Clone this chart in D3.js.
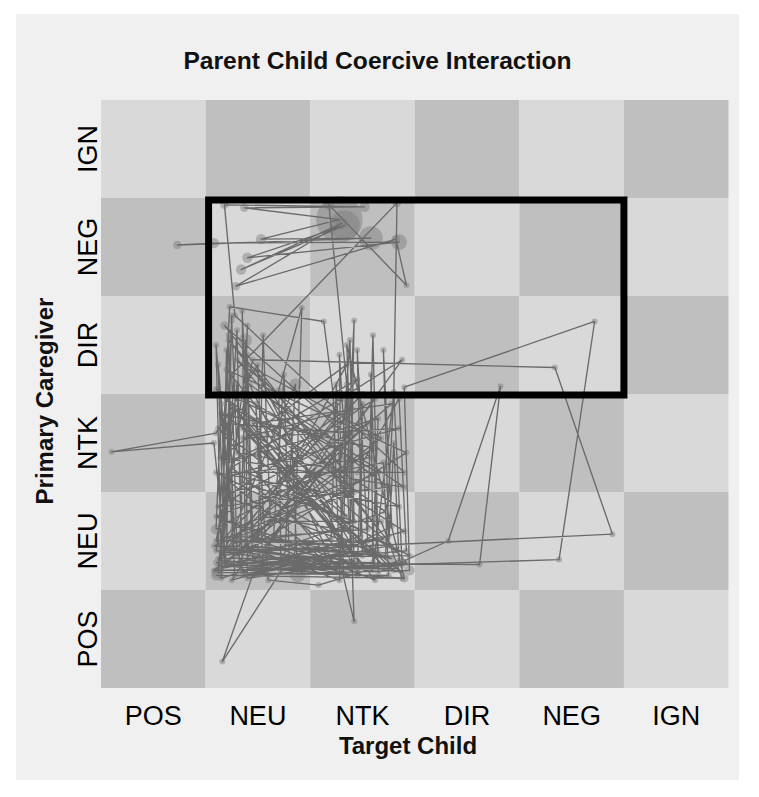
<!DOCTYPE html>
<html>
<head>
<meta charset="utf-8">
<script src="https://cdn.jsdelivr.net/npm/d3@7"></script>
<style>
  html, body { margin: 0; padding: 0; background: #ffffff; }
  svg { display: block; font-family: "Liberation Sans", Arial, sans-serif; }
</style>
</head>
<body>
<svg id="chart" width="759" height="797"></svg>
<script>
// ---------------- data ----------------
const title = "Parent Child Coercive Interaction";
const xTitle = "Target Child";
const yTitle = "Primary Caregiver";
const childStates  = ["POS", "NEU", "NTK", "DIR", "NEG", "IGN"];
const parentStates = ["POS", "NEU", "NTK", "DIR", "NEG", "IGN"];
// highlighted region (state index ranges)
const regionChild  = [1, 5];   // NEU .. NEG
const regionParent = [3, 5];   // DIR .. NEG

// trajectory: child state (x) and parent state (y), continuous (cell index + jitter)
const childPos = [
  1.10, 2.90, 2.35, 2.42, 1.20, 1.25, 1.18, 1.30, 1.35, 2.88,
  2.80, 2.60, 1.15, 1.10, 1.22, 2.70, 2.75, 1.12, 1.40, 1.45,
  2.30, 2.28, 2.38, 1.55, 1.50, 1.10, 0.10, 1.08, 1.20, 2.92,
  2.85, 2.45, 1.30, 1.25, 1.17, 2.20, 2.25, 2.32, 1.80, 1.75,
  1.65, 2.55, 2.60, 2.65, 1.12, 1.23, 2.13, 2.22, 2.28, 1.40,
  1.38, 1.45, 2.40, 1.20, 1.28, 2.95, 2.90, 4.72, 4.38, 1.12,
  1.30, 1.35, 2.50, 2.45, 2.55, 1.10, 1.45, 4.34, 4.89, 1.15,
  1.22, 1.26, 2.35, 2.42, 2.38, 1.55, 1.48, 1.60, 2.08, 2.85,
  2.80, 2.75, 1.46, 1.16, 1.72, 1.70, 1.92, 1.85, 2.60, 2.58,
  2.65, 3.32, 3.82, 3.62, 1.18, 1.12, 1.25, 2.28, 2.42, 2.40,
  1.20, 1.15, 1.10, 2.30, 2.38, 2.42, 1.35, 1.40, 1.32, 2.75,
  2.70, 2.78, 1.88, 1.82, 1.20, 2.65, 2.60, 1.10, 1.22, 2.90,
  1.28, 1.18, 2.52, 1.37, 2.28, 1.53, 2.58, 0.73, 1.08, 2.85,
  1.40, 2.33, 1.34, 2.30, 1.29, 2.82, 2.92, 2.18, 2.35, 2.40,
  1.30, 1.25, 2.83, 2.80, 2.72, 1.38, 1.35, 1.45, 2.45, 2.50,
  2.48, 1.15, 1.20, 1.28, 2.32, 2.35, 2.28, 1.50, 1.55, 1.62,
  2.68, 2.88, 1.12, 1.86, 1.75, 2.82, 1.08,
  2.60, 1.15, 2.90, 1.25, 2.40, 1.35, 2.85, 1.18, 2.25, 1.42,
  2.75, 1.12, 2.55, 1.30, 2.92, 1.20, 2.35, 1.50, 2.70, 1.10,
  2.20, 1.60, 2.88, 1.25, 2.45, 1.38, 2.65, 1.15, 2.50, 1.70,
  2.82, 1.22, 2.30, 1.10, 2.62, 1.45, 2.78, 1.28, 2.40, 1.55,
  2.90, 1.14, 2.35, 1.32, 2.72, 1.20, 2.50, 1.66, 2.28, 1.12,
  2.95, 1.40, 2.58, 1.18, 2.42, 1.08, 2.80, 1.35, 2.25, 1.48,
  2.68, 1.22, 2.38, 1.28, 2.85, 1.10, 2.55, 1.45, 2.92, 1.30,
  2.32, 1.15, 2.70, 1.58, 2.45, 1.25, 2.88, 1.12, 2.20, 1.36,
  2.62, 1.20, 2.78, 1.42, 2.35, 1.10
];
const parentPos = [
  1.15, 1.12, 3.50, 1.30, 1.42, 3.80, 1.60, 3.65, 1.20, 1.25,
  3.00, 1.20, 1.30, 3.50, 2.00, 2.30, 1.15, 1.18, 3.40, 1.50,
  1.45, 3.40, 1.60, 1.75, 3.30, 2.60, 2.41, 2.50, 1.25, 1.40,
  2.95, 2.20, 2.40, 3.75, 1.35, 1.52, 3.10, 1.18, 1.30, 3.20,
  1.55, 1.62, 3.60, 1.38, 1.45, 3.89, 3.74, 3.00, 1.25, 1.12,
  3.55, 1.65, 2.60, 2.70, 1.15, 1.20, 3.07, 3.74, 1.31, 1.20,
  3.10, 1.30, 1.35, 3.45, 1.50, 1.50, 3.35, 3.27, 1.57, 1.38,
  3.60, 1.62, 2.10, 3.75, 1.40, 1.22, 2.90, 1.10, 1.05, 1.30,
  2.50, 1.45, 1.18, 0.27, 1.19, 3.04, 3.88, 1.30, 1.28, 3.20,
  1.18, 1.50, 3.08, 1.26, 1.28, 3.30, 1.70, 1.31, 0.68, 1.28,
  1.55, 2.90, 1.62, 2.35, 3.55, 1.70, 2.10, 3.70, 1.25, 1.55,
  3.45, 1.65, 1.16, 2.60, 2.30, 2.75, 1.45, 1.40, 2.20, 2.20,
  3.80, 4.93, 4.91, 4.90, 4.78, 4.58, 4.59, 4.52, 4.54, 4.55,
  4.39, 4.72, 4.27, 4.74, 4.10, 4.58, 4.11, 4.93, 3.10, 1.20,
  1.40, 3.20, 4.95, 3.02, 1.35, 1.45, 3.85, 1.30, 1.15, 2.90,
  1.55, 1.12, 3.45, 1.48, 1.62, 2.95, 1.10, 1.40, 3.60, 1.70,
  1.70, 1.12, 1.25, 3.10, 1.25, 1.22, 1.20,
  2.45, 2.80, 1.60, 1.10, 2.85, 2.55, 2.65, 2.15, 1.20, 3.10,
  2.05, 1.85, 2.70, 1.35, 2.40, 3.25, 1.75, 2.45, 1.25, 3.05,
  2.50, 1.45, 3.35, 2.25, 1.20, 2.95, 2.20, 1.50, 3.00, 2.10,
  1.40, 3.55, 2.25, 1.75, 1.10, 2.70, 2.90, 1.55, 1.45, 3.00,
  2.05, 2.35, 3.30, 1.28, 1.80, 2.95, 1.25, 2.30, 2.80, 1.32,
  1.35, 2.20, 2.35, 3.70, 2.00, 1.45, 1.20, 2.65, 1.60, 3.25,
  2.55, 1.38, 1.22, 2.85, 1.85, 2.20, 1.40, 1.25, 1.28, 3.35,
  2.45, 1.22, 1.52, 2.60, 3.15, 1.45, 1.18, 2.65, 1.30, 1.15,
  2.95, 1.95, 1.32, 1.55, 1.15, 1.28
];
// time spent at each event (drives node size)
const duration = [
  3, 2, 1, 1, 2, 1, 1, 1, 1, 1,
  1, 1, 2, 1, 1, 1, 1, 4, 1, 1,
  1, 1, 1, 1, 1, 1, 1, 1, 1, 1,
  1, 1, 1, 1, 1, 1, 1, 1, 1, 1,
  1, 1, 1, 1, 1, 1, 1, 1, 1, 1,
  5, 1, 1, 1, 1, 3, 1, 1, 1, 1,
  1, 1, 1, 1, 1, 1, 1, 1, 1, 1,
  1, 1, 1, 1, 1, 1, 1, 1, 1, 1,
  1, 1, 1, 1, 1, 1, 1, 1, 1, 1,
  1, 1, 1, 1, 1, 1, 1, 1, 1, 1,
  1, 1, 3, 1, 1, 1, 1, 1, 1, 1,
  1, 1, 7, 1, 1, 1, 1, 1, 1, 1,
  1, 2, 3, 2, 60, 3, 16, 2, 3, 7,
  3, 25, 3, 4, 2, 2, 1, 3, 1, 1,
  1, 1, 2, 1, 1, 1, 1, 1, 1, 1,
  1, 1, 1, 1, 1, 2, 1, 1, 1, 1,
  1, 1, 1, 4, 1, 1, 1,
  1, 1, 1, 1, 1, 1, 1, 1, 1, 1,
  1, 1, 1, 1, 1, 1, 1, 1, 1, 1,
  1, 1, 1, 1, 1, 1, 1, 1, 1, 1,
  1, 1, 1, 1, 1, 1, 1, 1, 1, 1,
  1, 1, 1, 1, 1, 1, 1, 1, 1, 1,
  1, 1, 1, 2, 1, 1, 1, 1, 1, 1,
  1, 1, 1, 1, 1, 1, 1, 1, 1, 1,
  1, 1, 1, 1, 1, 1, 1, 1, 1, 1,
  1, 1, 1, 1, 1, 1
];

// ---------------- layout ----------------
const svg = d3.select("#chart");
const panel = { x: 16, y: 14, w: 723, h: 766 };
const grid = { left: 101, right: 728.5, top: 100, bottom: 688 };

const xBand = d3.scaleBand().domain(childStates).range([grid.left, grid.right]).padding(0);
const yBand = d3.scaleBand().domain(parentStates).range([grid.bottom, grid.top]).padding(0);
const x = d3.scaleLinear().domain([0, 6]).range([grid.left, grid.right]);
const y = d3.scaleLinear().domain([0, 6]).range([grid.bottom, grid.top]);
const r = d3.scaleSqrt().domain([0, 1]).range([0, 3]);

svg.append("rect")
  .attr("x", panel.x).attr("y", panel.y)
  .attr("width", panel.w).attr("height", panel.h)
  .attr("fill", "#f0f0f0");

// checkerboard cells
const cells = [];
childStates.forEach((c, i) => parentStates.forEach((p, j) => cells.push({ c, p, i, j })));
svg.append("g").selectAll("rect").data(cells).join("rect")
  .attr("x", d => xBand(d.c))
  .attr("y", d => yBand(d.p))
  .attr("width", xBand.bandwidth())
  .attr("height", yBand.bandwidth())
  .attr("fill", d => ((d.i + d.j) % 2 === 0) ? "#bfbfbf" : "#d9d9d9");

// trajectory
const n = Math.min(childPos.length, parentPos.length, duration.length);
const pts = d3.range(n).map(k => ({ x: childPos[k], y: parentPos[k], d: duration[k] }));

svg.append("g").selectAll("circle").data(pts).join("circle")
  .attr("cx", d => x(d.x))
  .attr("cy", d => y(d.y))
  .attr("r", d => r(d.d))
  .attr("fill", "#7a7a7a")
  .attr("fill-opacity", 0.45);

const line = d3.line().x(d => x(d.x)).y(d => y(d.y));
svg.append("path")
  .datum(pts)
  .attr("d", line)
  .attr("fill", "none")
  .attr("stroke", "#6a6a6a")
  .attr("stroke-width", 1.35)
  .attr("stroke-linejoin", "round");

// highlighted region
svg.append("rect")
  .attr("x", x(regionChild[0]) + 3)
  .attr("y", y(regionParent[1]) + 2)
  .attr("width", x(regionChild[1]) - x(regionChild[0]) - 3)
  .attr("height", y(regionParent[0]) - y(regionParent[1]) - 1)
  .attr("fill", "none")
  .attr("stroke", "#000")
  .attr("stroke-width", 7);

// axes
const xAxis = svg.append("g")
  .attr("transform", `translate(0,${grid.bottom})`)
  .call(d3.axisBottom(xBand).tickSize(0).tickPadding(18));
xAxis.select(".domain").remove();
xAxis.selectAll("text")
  .attr("fill", "#000")
  .style("font-size", "27px")
  .style("font-family", "Liberation Sans, Arial, sans-serif");

const yAxis = svg.append("g")
  .attr("transform", `translate(${grid.left},0)`)
  .call(d3.axisLeft(yBand).tickSize(0));
yAxis.select(".domain").remove();
yAxis.selectAll("text")
  .attr("fill", "#000")
  .attr("transform", "rotate(-90)")
  .attr("x", 0)
  .attr("y", -4)
  .attr("dy", 0)
  .attr("text-anchor", "middle")
  .style("font-size", "27px")
  .style("font-family", "Liberation Sans, Arial, sans-serif");

// titles
svg.append("text")
  .attr("x", panel.x + panel.w / 2)
  .attr("y", 69)
  .attr("text-anchor", "middle")
  .attr("font-weight", "bold")
  .attr("font-size", 24.6)
  .attr("fill", "#111")
  .text(title);

svg.append("text")
  .attr("x", 408)
  .attr("y", 754)
  .attr("text-anchor", "middle")
  .attr("font-weight", "bold")
  .attr("font-size", 24)
  .attr("fill", "#111")
  .text(xTitle);

svg.append("text")
  .attr("transform", `translate(53,401) rotate(-90)`)
  .attr("text-anchor", "middle")
  .attr("font-weight", "bold")
  .attr("font-size", 24)
  .attr("fill", "#111")
  .text(yTitle);
</script>
</body>
</html>
